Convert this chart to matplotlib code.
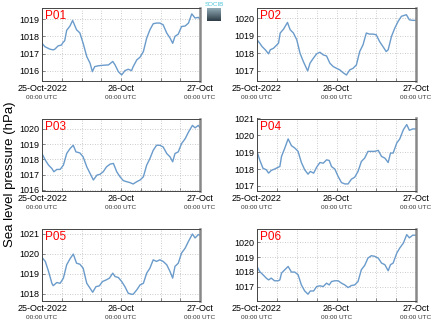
import matplotlib
matplotlib.use("Agg")
import matplotlib.pyplot as plt
import matplotlib.dates as mdates
import numpy as np

plt.rcParams["font.family"] = ["Liberation Sans", "DejaVu Sans"]

# Horas desde 25-Oct-2022 00:00 UTC y presión (hPa)
p01_hours = [0, 0.9, 2.4, 3.4, 3.9, 4.9, 5.9, 6.4, 6.9, 7.5, 8.5, 9.3, 10.5, 11.5, 12.5, 13.6,
             14.6, 15.3, 16.0, 17.1, 18.6, 20.2, 21.5, 22.2, 23.2, 24.2, 25.2, 26.2, 27.2, 27.7,
             28.8, 29.8, 30.8, 31.8, 32.8, 33.8, 34.8, 35.8, 36.8, 37.9, 38.9, 39.7, 40.4, 41.4,
             42.4, 43.5, 44.5, 45.5, 46.5, 47.5, 48]
p01_pres = [1017.6, 1017.4, 1017.26, 1017.22, 1017.26, 1017.45, 1017.5, 1017.65, 1017.75, 1018.35,
            1018.6, 1018.92, 1018.38, 1018.2, 1017.6, 1016.83, 1016.45, 1015.96, 1016.25, 1016.3,
            1016.33, 1016.35, 1016.55, 1016.35, 1015.96, 1015.77, 1016.02, 1016.1, 1016.02, 1016.25,
            1016.64, 1016.8, 1017.12, 1017.9, 1018.38, 1018.73, 1018.77, 1018.77, 1018.67, 1018.19,
            1017.9, 1017.6, 1018.0, 1018.13, 1018.57, 1018.6, 1018.77, 1019.3, 1019.06, 1019.1, 1019.0]

p02_hours = [0, 0.8, 1.5, 2.5, 3.5, 4, 5, 6, 6.5, 7, 8, 9.2, 10, 11, 12, 13, 14, 15.3, 16, 17,
             18, 19, 20, 21, 22, 23, 24, 25, 26, 27, 28, 29, 30, 31, 32, 33, 34, 35, 36, 37,
             38, 39, 39.6, 40.6, 41.6, 42.6, 43.6, 45.1, 46, 47, 48]
p02_pres = [1018.77, 1018.58, 1018.39, 1018.2, 1017.97, 1018.2, 1018.29, 1018.48, 1018.58, 1019.15,
            1019.37, 1019.75, 1019.34, 1019.15, 1018.77, 1018.0, 1017.53, 1017.0, 1017.44, 1017.72,
            1017.97, 1018.06, 1017.91, 1017.85, 1017.44, 1017.25, 1017.15, 1017.06, 1016.9, 1016.77,
            1017.06, 1017.15, 1017.34, 1018.1, 1018.48, 1019.15, 1019.09, 1019.09, 1019.05, 1018.67,
            1018.39, 1018.1, 1018.2, 1018.96, 1019.43, 1019.81, 1020.1, 1020.19, 1019.9, 1019.87, 1019.87]

p03_hours = [0, 1, 2, 3, 3.6, 4.5, 5.5, 6.5, 7.5, 8.5, 9.5, 10.3, 11.5, 12.5, 13.6, 14.6, 15.6,
             16.7, 17.6, 18.6, 19.6, 20.7, 21.7, 22.7, 23.7, 24.7, 25.7, 26.7, 27.7, 28.8, 29.8,
             30.8, 31.8, 32.8, 33.8, 34.8, 35.8, 36.8, 37.9, 38.9, 39.7, 40.4, 41.4, 42.4, 43.5,
             44.5, 45.7, 46.5, 47.5, 48]
p03_pres = [1018.38, 1017.95, 1017.62, 1017.4, 1017.19, 1017.34, 1017.34, 1017.62, 1018.38, 1018.7,
            1018.92, 1018.49, 1018.42, 1018.16, 1017.51, 1017.08, 1016.65, 1016.97, 1017.02, 1017.19,
            1017.51, 1017.69, 1017.73, 1017.19, 1016.86, 1016.61, 1016.54, 1016.48, 1016.39, 1016.54,
            1016.65, 1016.86, 1017.62, 1018.05, 1018.59, 1018.92, 1018.92, 1018.81, 1018.38, 1018.16,
            1017.84, 1018.38, 1018.49, 1019.03, 1019.35, 1019.78, 1020.22, 1020.06, 1020.22, 1020.06]

p04_hours = [0, 0.8, 1.8, 2.8, 3.5, 4.3, 5.3, 6.4, 6.9, 7.4, 8.4, 9.4, 10.4, 11.4, 12.4, 13.4,
             14.4, 15.4, 16.1, 17.1, 18, 19, 20, 21, 21.8, 22.5, 23.5, 24.5, 25.5, 26.5, 27.5,
             28.5, 29.5, 30.5, 31.5, 32.5, 33.5, 34.5, 35.5, 36.6, 37.6, 38.6, 39.6, 40.3, 41.1,
             42.2, 43.1, 44.2, 45.2, 46, 47, 48]
p04_pres = [1019.05, 1018.55, 1018.05, 1017.96, 1017.76, 1017.92, 1018.0, 1018.11, 1018.15, 1018.75,
            1019.25, 1019.79, 1019.39, 1019.25, 1019.05, 1018.39, 1017.96, 1017.7, 1017.86, 1017.76,
            1018.11, 1018.39, 1018.35, 1018.55, 1018.51, 1018.15, 1018.0, 1017.56, 1017.2, 1017.12,
            1017.12, 1017.4, 1017.52, 1017.86, 1018.45, 1018.65, 1019.05, 1019.05, 1019.05, 1019.11,
            1018.75, 1018.65, 1018.39, 1018.95, 1018.95, 1019.55, 1019.79, 1020.34, 1020.64, 1020.3,
            1020.38, 1020.38]

p05_hours = [0, 1, 2, 3, 3.4, 4.5, 5.5, 6.5, 7.5, 8.5, 9.5, 10.5, 11.5, 12.5, 13.6, 14.6, 15.4,
             16.4, 17.4, 18.4, 19.5, 20.5, 21.5, 22.2, 23.2, 24.2, 25.2, 26.2, 27.2, 27.7, 28.8,
             29.8, 30.8, 31.8, 32.8, 33.8, 34.8, 35.8, 36.8, 37.9, 38.9, 39.7, 40.4, 41.4, 42.4,
             43.5, 44.5, 45.7, 46.5, 47.5, 48]
p05_pres = [1019.82, 1019.62, 1019.11, 1018.52, 1018.4, 1018.56, 1018.52, 1018.78, 1019.45, 1019.75,
            1019.99, 1019.53, 1019.48, 1019.28, 1018.52, 1018.27, 1018.07, 1018.35, 1018.39, 1018.61,
            1018.69, 1018.78, 1019.03, 1018.86, 1018.81, 1018.61, 1018.35, 1018.02, 1017.97, 1017.97,
            1018.19, 1018.44, 1018.52, 1019.03, 1019.28, 1019.7, 1019.62, 1019.7, 1019.62, 1019.45,
            1019.11, 1018.78, 1019.37, 1019.53, 1020.04, 1020.29, 1020.63, 1021.0, 1020.8, 1020.97,
            1020.94]

p06_hours = [0, 0.8, 1.8, 2.8, 3.5, 4.3, 5.3, 6.4, 6.9, 7.4, 8.4, 9.4, 10.4, 11.4, 12.4, 13.4,
             14.4, 15.4, 16.1, 17.1, 18, 19, 20, 21, 21.8, 22.5, 23.5, 24.5, 25.5, 26.5, 27.5,
             28.5, 29.5, 30.5, 31.5, 32.5, 33.5, 34.5, 35.5, 36.6, 37.6, 38.6, 39.6, 40.3, 41.1,
             42.2, 43.1, 44.2, 45.2, 46, 47, 48]
p06_pres = [1018.36, 1018.02, 1017.8, 1017.57, 1017.45, 1017.57, 1017.39, 1017.39, 1017.45, 1017.91,
            1018.14, 1018.36, 1017.98, 1017.98, 1017.8, 1017.11, 1016.7, 1016.48, 1016.7, 1016.7,
            1017.0, 1017.05, 1017.0, 1017.23, 1017.11, 1017.34, 1017.39, 1017.39, 1017.23, 1017.11,
            1016.93, 1017.07, 1017.11, 1017.34, 1018.14, 1018.43, 1018.93, 1019.09, 1019.05, 1018.93,
            1018.59, 1018.48, 1018.07, 1018.48, 1018.59, 1019.27, 1019.61, 1019.95, 1020.52, 1020.3,
            1020.48, 1020.48]

stations = ["P01", "P02", "P03", "P04", "P05", "P06"]
all_hours = [p01_hours, p02_hours, p03_hours, p04_hours, p05_hours, p06_hours]
all_pres = [p01_pres, p02_pres, p03_pres, p04_pres, p05_pres, p06_pres]
y_limits = [(1015.42, 1019.64), (1016.43, 1020.57), (1015.93, 1020.67),
            (1016.7, 1021.0), (1017.63, 1021.25), (1016.02, 1020.9)]
date_labels = ["25-Oct-2022", "26-Oct", "27-Oct"]

start = np.datetime64("2022-10-25T00:00")

W, H = 435, 327
fig = plt.figure(figsize=(W / 100, H / 100), dpi=100)

# posiciones en píxeles (izq, der, arriba, abajo)
cols = [(42, 200), (257, 416)]
rows = [(8, 81), (118.5, 191), (229, 301)]

for k, name in enumerate(stations):
    c0, c1 = cols[k % 2]
    r0, r1 = rows[k // 2]
    ax = fig.add_axes([c0 / W, (H - r1) / H, (c1 - c0) / W, (r1 - r0) / H])

    t = start + (np.array(all_hours[k]) * 60).astype("timedelta64[m]")
    ax.plot(t.astype("datetime64[ms]").astype(object), all_pres[k], color="#6a9bcb", lw=1.0)

    ax.set_xlim(start.astype(object), (start + np.timedelta64(48, "h")).astype(object))
    ax.set_ylim(*y_limits[k])
    ax.yaxis.set_major_locator(matplotlib.ticker.MultipleLocator(1))
    ax.yaxis.set_major_formatter(matplotlib.ticker.FormatStrFormatter("%d"))
    ax.xaxis.set_major_locator(mdates.HourLocator(byhour=[0]))
    ax.xaxis.set_minor_locator(mdates.HourLocator(byhour=[6, 12, 18]))
    ax.set_xticklabels(date_labels, fontsize=6.5)
    ax.tick_params(axis="x", which="both", direction="in", length=2, width=0.5,
                   color="#555555", pad=2.5)
    ax.tick_params(axis="y", direction="in", length=2, width=0.5, color="#555555",
                   labelsize=6.5, pad=2)
    ax.grid(True, which="both", linestyle=(0, (1, 2)), color="#bbbbbb", lw=0.6)

    for d in [0, 24, 48]:
        x = (start + np.timedelta64(d, "h")).astype(object)
        ax.text(x, -0.23, "00:00 UTC", transform=ax.get_xaxis_transform(),
                ha="center", va="center", fontsize=4.6, color="#333333")

    for s in ["left", "bottom", "top"]:
        ax.spines[s].set_color("#444444")
        ax.spines[s].set_linewidth(0.7)
    ax.spines["right"].set_color("#888888")
    ax.spines["right"].set_linewidth(1.8)

    ax.text(0.02, 0.97, name, transform=ax.transAxes, color="red", fontsize=8.5,
            ha="left", va="top")

fig.text(10 / W, 1 - 174 / H, "Sea level pressure (hPa)", rotation=90,
         ha="center", va="center", fontsize=9.5)

# logo SOCIB
fig.text(214 / W, 1 - 5 / H, "SOCIB", color="#4cc4d8", fontsize=4.5,
         ha="center", va="center")
logo = fig.add_axes([207 / W, 1 - 21 / H, 14 / W, 13 / H])
grad = np.linspace(0, 1, 20).reshape(-1, 1)
logo.imshow(grad, aspect="auto", cmap=matplotlib.colors.LinearSegmentedColormap.from_list(
    "l", ["#8fa9b4", "#2f3e48"]))
logo.axis("off")

fig.savefig("out.png", dpi=100)
